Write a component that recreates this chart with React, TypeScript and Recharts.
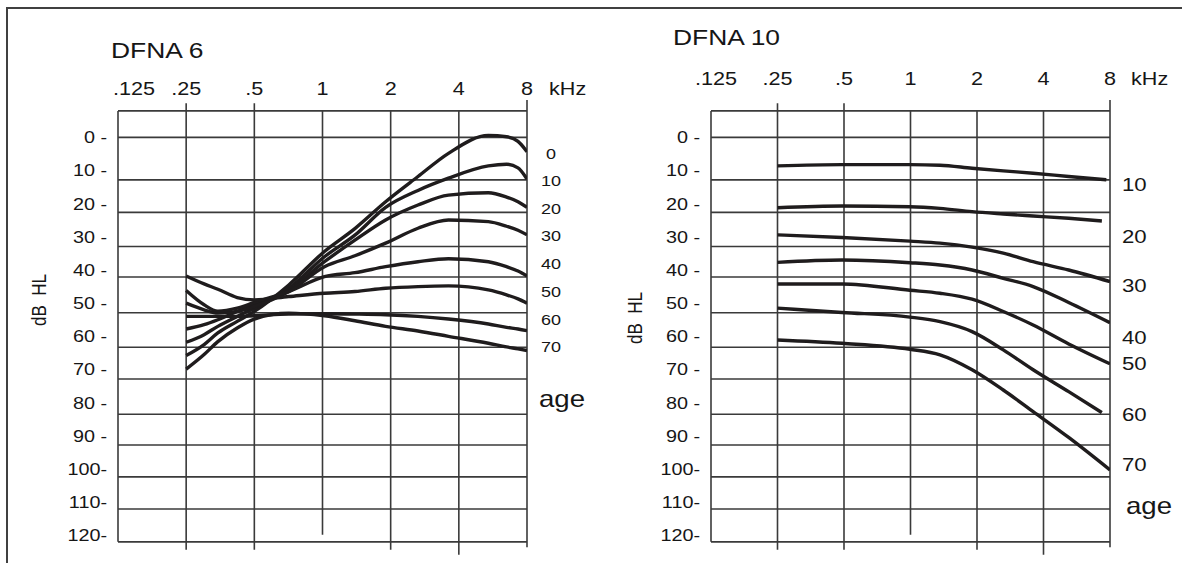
import React from 'react';
import { LineChart, Line, XAxis, YAxis, ReferenceLine } from 'recharts';

// ---- shared audiogram axes ----
const freqTicks = [0.125, 0.25, 0.5, 1, 2, 4, 8];
const freqTickLabels = ['.125', '.25', '.5', '1', '2', '4', '8'];
const dbTicks = [0, 10, 20, 30, 40, 50, 60, 70, 80, 90, 100, 110, 120];
// frame edges and the hand-ruled horizontal lines of the form (dB HL)
const frameTopDb = -8;
const frameBottomDb = 122;
const ruleDb = [0, 12.8, 22.6, 32.9, 42.1, 52.9, 63.3, 72.9, 83.5, 92.8, 102.4, 112.1];

// ---- DFNA 6: thresholds by age ----
const dfna6Freq = [0.25, 0.3, 0.345, 0.42, 0.5, 0.71, 1.02, 1.39, 1.9, 2.64, 3.6, 5.4, 6.5, 7.3, 8];
const dfna6Age0 = [65.8, 62.5, 59.0, 55.5, 52.5, 44.5, 34.4, 27.5, 19.4, 11.8, 4.8, -0.6, -0.2, 1.2, 4.3];
const dfna6Age10 = [61.8, 59.5, 57.0, 54.0, 51.5, 45.5, 36.0, 29.5, 21.1, 16.0, 12.3, 8.6, 8.1, 9.2, 12.6];
const dfna6Age20 = [57.8, 56.5, 55.0, 52.5, 50.5, 46.0, 37.5, 31.0, 24.9, 20.4, 17.4, 16.7, 18.0, 19.4, 21.1];
const dfna6Age30 = [50.0, 52.0, 53.0, 52.5, 51.0, 46.5, 39.0, 35.7, 31.9, 27.4, 24.9, 25.4, 26.8, 28.0, 29.4];
const dfna6Age40 = [46.2, 50.5, 52.4, 51.5, 49.8, 46.5, 42.0, 40.8, 39.0, 37.5, 36.6, 37.5, 39.0, 40.3, 41.8];
const dfna6Age50 = [41.8, 44.2, 45.8, 48.3, 49.0, 48.0, 47.0, 46.5, 45.5, 45.0, 44.8, 46.0, 47.5, 48.7, 50.0];
const dfna6Age60 = [54.0, 54.0, 54.0, 54.0, 53.8, 53.3, 53.2, 53.3, 53.5, 54.0, 54.8, 56.3, 57.3, 57.8, 58.3];
const dfna6Age70 = [69.9, 65.5, 61.6, 57.5, 54.8, 53.0, 53.8, 55.3, 57.0, 58.4, 60.0, 62.1, 63.2, 63.8, 64.3];
const dfna6AgeNames = ['0', '10', '20', '30', '40', '50', '60', '70'];
const dfna6AgeLabelDb = [4.8, 13.1, 21.6, 29.7, 38.2, 46.6, 55.0, 63.2];

// ---- DFNA 10: thresholds by age ----
const dfna10Freq = [0.25, 0.49, 0.994, 1.36, 1.9, 2.63, 3.59, 5.2, 8];
const dfna10EndFreq = [7.7, 7.35, 8, 8, 8, 7.35, 8];
const dfna10Age10 = [8.6, 8.2, 8.2, 8.4, 9.3, 10.1, 10.8, 11.8, 12.8];
const dfna10Age20 = [21.2, 20.7, 20.9, 21.4, 22.4, 23.1, 23.7, 24.4, 25.2];
const dfna10Age30 = [29.4, 30.2, 31.3, 31.9, 33.1, 34.9, 37.5, 40.0, 43.5];
const dfna10Age40 = [37.7, 37.0, 37.8, 38.5, 40.0, 42.5, 45.0, 49.8, 55.9];
const dfna10Age50 = [44.2, 44.2, 46.1, 47.0, 48.8, 52.5, 56.6, 62.3, 68.3];
const dfna10Age60 = [51.5, 52.8, 54.2, 55.6, 58.6, 64.1, 70.1, 76.7, 83.0];
const dfna10Age70 = [61.1, 62.1, 63.9, 65.6, 70.1, 76.2, 82.7, 90.5, 100.3];
const dfna10AgeNames = ['10', '20', '30', '40', '50', '60', '70'];
const dfna10AgeLabelDb = [14.1, 29.8, 44.6, 60.3, 68.2, 83.6, 98.6];

const FONT = "'Liberation Sans', Arial, Helvetica, sans-serif";
const INK = '#161616';
const RULE = '#3a3a3a';
const CURVE = '#1f1c1d';

type Pt = { f: number; db: number };

function toPoints(freq: number[], db: number[], endFreq?: number): Pt[] {
  return freq.map((f, i) => ({ f: i === freq.length - 1 && endFreq ? endFreq : f, db: db[i] }));
}

// text with the slightly wide lettering of the original artwork
function SText(props: {
  x: number;
  y: number;
  size: number;
  anchor?: 'start' | 'middle' | 'end';
  rotate?: boolean;
  children: React.ReactNode;
}) {
  const { x, y, size, anchor = 'start', rotate = false, children } = props;
  const t = rotate
    ? `translate(${x},${y}) scale(1.2,1) rotate(-90)`
    : `translate(${x},${y}) scale(1.2,1)`;
  return (
    <text
      transform={t}
      x={0}
      y={0}
      fontSize={size}
      textAnchor={anchor}
      fill={INK}
      fontFamily={FONT}
      style={{ whiteSpace: 'pre' }}
    >
      {children}
    </text>
  );
}

type VRule = { f: number; top: number; bottom: number };
// vertical rules: some run past the frame like tick marks
const vRules: VRule[] = [
  { f: 0.125, top: -8, bottom: 122 },
  { f: 0.25, top: -10.3, bottom: 124.4 },
  { f: 0.5, top: -10.3, bottom: 124.4 },
  { f: 1, top: -8, bottom: 119.9 },
  { f: 2, top: -8, bottom: 124.4 },
  { f: 4, top: -8, bottom: 125.9 },
  { f: 8, top: -11.3, bottom: 123.6 },
];

type PanelProps = {
  left: number;
  width: number;
  plotLeft: number;
  plotWidth: number;
  freqLabelY: number;
  firstTickShift: number;
  series: Pt[][];
  ageNames: string[];
  ageDb: number[];
  ageX: number;
  ageAnchor: 'start' | 'middle' | 'end';
  ageSize: number;
};

function Panel(p: PanelProps) {
  const rightAxisW = 70;
  const mr = p.width - p.plotLeft - p.plotWidth - rightAxisW;
  const topAxisH = 30;

  const xTick = (props: any) => {
    const { x, payload } = props;
    const i = freqTicks.indexOf(payload.value);
    const label = i >= 0 ? freqTickLabels[i] : String(payload.value);
    return (
      <SText x={x + (i === 0 ? p.firstTickShift : 0)} y={p.freqLabelY} size={18} anchor="middle">
        {label}
      </SText>
    );
  };

  const yTick = (props: any) => {
    const { y, payload } = props;
    const v = payload.value as number;
    const txt = v >= 100 ? `${v}-` : `${v} -`;
    return (
      <SText x={p.plotLeft - 11} y={y + 0.358 * 16.5} size={16.5} anchor="end">
        {txt}
      </SText>
    );
  };

  const ageTick = (props: any) => {
    const { y, payload } = props;
    const i = p.ageDb.indexOf(payload.value);
    return (
      <SText x={p.ageX} y={y + 0.358 * p.ageSize} size={p.ageSize} anchor={p.ageAnchor}>
        {i >= 0 ? p.ageNames[i] : ''}
      </SText>
    );
  };

  return (
    <div style={{ position: 'absolute', left: p.left, top: 0 }}>
      <LineChart width={p.width} height={563} margin={{ top: 91 - topAxisH, right: mr, bottom: 4.6, left: 0 }}>
        <XAxis
          type="number"
          dataKey="f"
          scale="log"
          domain={[0.125, 8]}
          ticks={freqTicks}
          interval={0}
          orientation="top"
          height={topAxisH}
          axisLine={false}
          tickLine={false}
          tick={xTick}
          allowDataOverflow
        />
        <YAxis
          yAxisId="db"
          type="number"
          domain={[-14, 127]}
          reversed
          ticks={dbTicks}
          interval={0}
          width={p.plotLeft}
          axisLine={false}
          tickLine={false}
          tick={yTick}
          allowDataOverflow
        />
        <YAxis
          yAxisId="age"
          orientation="right"
          type="number"
          domain={[-14, 127]}
          reversed
          ticks={p.ageDb}
          interval={0}
          width={rightAxisW}
          axisLine={false}
          tickLine={false}
          tick={ageTick}
          allowDataOverflow
        />
        {ruleDb.map((v) => (
          <ReferenceLine key={'h' + v} yAxisId="db" y={v} stroke={RULE} strokeWidth={1.6} ifOverflow="visible" />
        ))}
        <ReferenceLine yAxisId="db" y={frameTopDb} stroke={RULE} strokeWidth={1.6} ifOverflow="visible" />
        <ReferenceLine yAxisId="db" y={frameBottomDb} stroke={RULE} strokeWidth={1.6} ifOverflow="visible" />
        {vRules.map((r) => (
          <ReferenceLine
            key={'v' + r.f}
            yAxisId="db"
            segment={[
              { x: r.f, y: r.top },
              { x: r.f, y: r.bottom },
            ]}
            stroke={RULE}
            strokeWidth={1.6}
            ifOverflow="visible"
          />
        ))}
        {p.series.map((d, i) => (
          <Line
            key={'s' + i}
            yAxisId="db"
            data={d}
            dataKey="db"
            type="monotone"
            stroke={CURVE}
            strokeWidth={3.4}
            dot={false}
            activeDot={false}
            isAnimationActive={false}
          />
        ))}
      </LineChart>
    </div>
  );
}

export default function App() {
  const dfna6Series = [
    dfna6Age0, dfna6Age10, dfna6Age20, dfna6Age30,
    dfna6Age40, dfna6Age50, dfna6Age60, dfna6Age70,
  ].map((a) => toPoints(dfna6Freq, a));

  const dfna10Series = [
    dfna10Age10, dfna10Age20, dfna10Age30, dfna10Age40,
    dfna10Age50, dfna10Age60, dfna10Age70,
  ].map((a, i) => toPoints(dfna10Freq, a, dfna10EndFreq[i]));

  return (
    <div style={{ position: 'absolute', left: 0, top: 0, width: 1182, height: 563, background: '#fff', overflow: 'hidden' }}>
      <div
        style={{
          position: 'absolute',
          left: 6,
          top: 7,
          width: 1190,
          height: 570,
          borderTop: '2px solid #404040',
          borderLeft: '2px solid #404040',
        }}
      />
      <Panel
        left={0}
        width={600}
        plotLeft={118}
        plotWidth={409}
        freqLabelY={94.9}
        firstTickShift={16}
        series={dfna6Series}
        ageNames={dfna6AgeNames}
        ageDb={dfna6AgeLabelDb}
        ageX={551}
        ageAnchor="middle"
        ageSize={15}
      />
      <Panel
        left={590}
        width={592}
        plotLeft={121}
        plotWidth={399}
        freqLabelY={84.9}
        firstTickShift={5}
        series={dfna10Series}
        ageNames={dfna10AgeNames}
        ageDb={dfna10AgeLabelDb}
        ageX={532}
        ageAnchor="start"
        ageSize={18.5}
      />
      <svg width={1182} height={563} style={{ position: 'absolute', left: 0, top: 0, pointerEvents: 'none' }}>
        <SText x={111} y={58.4} size={22}>DFNA 6</SText>
        <SText x={673} y={45.4} size={22}>DFNA 10</SText>
        <SText x={549} y={94.9} size={18}>kHz</SText>
        <SText x={1131} y={84.9} size={18}>kHz</SText>
        <SText x={46} y={300} size={17} anchor="middle" rotate>{'dB  HL'}</SText>
        <SText x={642} y={318} size={17} anchor="middle" rotate>{'dB  HL'}</SText>
        <SText x={539} y={407} size={23}>age</SText>
        <SText x={1126} y={513.5} size={23}>age</SText>
      </svg>
    </div>
  );
}
